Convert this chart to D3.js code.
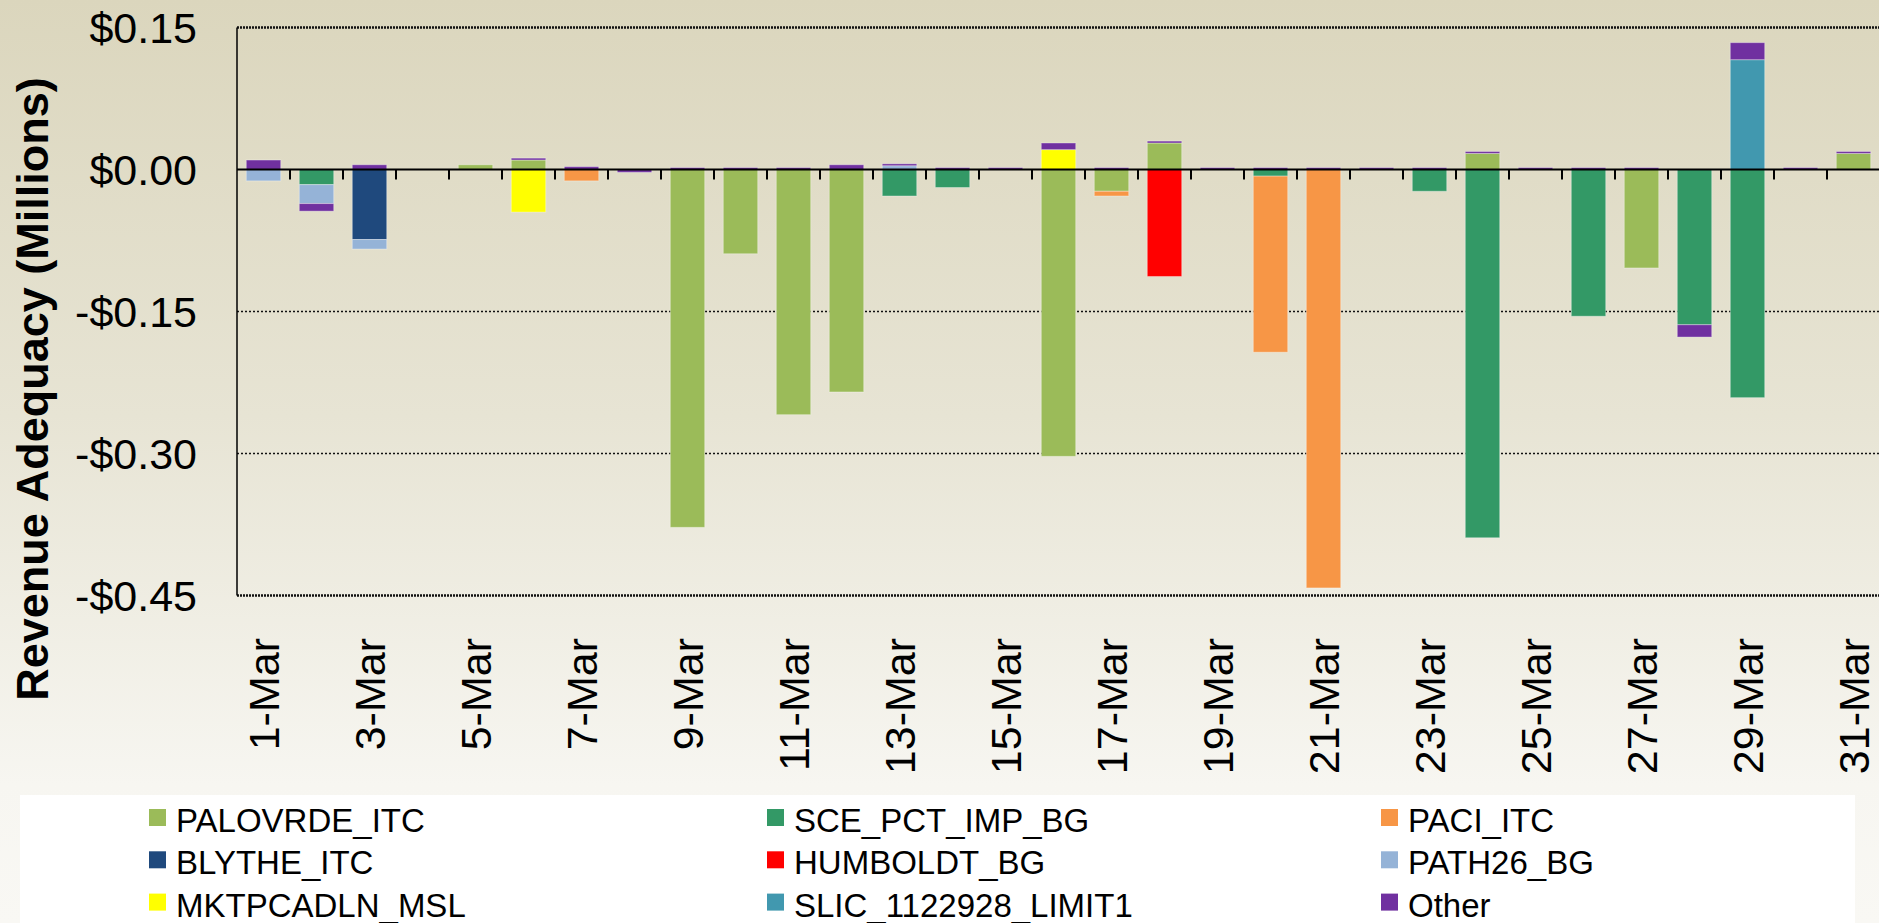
<!DOCTYPE html>
<html>
<head>
    <meta charset="utf-8">
    <title>Revenue Adequacy - March</title>
    <!-- fetch the D3js library -->
    <script src="https://d3js.org/d3.v7.min.js"></script>
    <style>
        body {
            margin: 0;
            overflow: hidden;
        }

        svg {
            display: block;
            font-family: "Liberation Sans", Arial, sans-serif;
        }
    </style>
</head>
<body>
<script>
    // categories (x axis)
    const days = ["1-Mar", "2-Mar", "3-Mar", "4-Mar", "5-Mar", "6-Mar", "7-Mar", "8-Mar", "9-Mar", "10-Mar",
        "11-Mar", "12-Mar", "13-Mar", "14-Mar", "15-Mar", "16-Mar", "17-Mar", "18-Mar", "19-Mar", "20-Mar",
        "21-Mar", "22-Mar", "23-Mar", "24-Mar", "25-Mar", "26-Mar", "27-Mar", "28-Mar", "29-Mar", "30-Mar", "31-Mar"];

    // series values, $ millions
    const PALOVRDE_ITC = [0, 0, 0, 0, 0.005, 0.010, 0, 0, -0.378, -0.089,
        -0.259, -0.235, 0, 0, 0, -0.303, -0.023, 0.028, 0, 0,
        0, 0, 0, 0.017, 0, 0, -0.104, 0, 0, 0, 0.017];
    const SCE_PCT_IMP_BG = [0, -0.016, 0, 0, 0, 0, 0, 0, 0, 0,
        0, 0, -0.028, -0.019, 0, 0, 0, 0, 0, -0.007,
        0, 0, -0.023, -0.389, 0, -0.155, 0, -0.164, -0.241, 0, 0];
    const PACI_ITC = [0, 0, 0, 0, 0, 0, -0.012, 0, 0, 0,
        0, 0, 0, 0, 0, 0, -0.005, 0, 0, -0.186,
        -0.442, 0, 0, 0, 0, 0, 0, 0, 0, 0, 0];
    const BLYTHE_ITC = [0, 0, -0.074, 0, 0, 0, 0, 0, 0, 0,
        0, 0, 0, 0, 0, 0, 0, 0, 0, 0,
        0, 0, 0, 0, 0, 0, 0, 0, 0, 0, 0];
    const HUMBOLDT_BG = [0, 0, 0, 0, 0, 0, 0, 0, 0, 0,
        0, 0, 0, 0, 0, 0, 0, -0.113, 0, 0,
        0, 0, 0, 0, 0, 0, 0, 0, 0, 0, 0];
    const PATH26_BG = [-0.012, -0.020, -0.010, 0, 0, 0, 0, 0, 0, 0,
        0, 0, 0.004, 0, 0, 0, 0, 0, 0, 0,
        0, 0, 0, 0, 0, 0, 0, 0, 0, 0, 0];
    const MKTPCADLN_MSL = [0, 0, 0, 0, 0, -0.045, 0, 0, 0, 0,
        0, 0, 0, 0, 0, 0.021, 0, 0, 0, 0,
        0, 0, 0, 0, 0, 0, 0, 0, 0, 0, 0];
    const SLIC_1122928_LIMIT1 = [0, 0, 0, 0, 0, 0, 0, 0, 0, 0,
        0, 0, 0, 0, 0, 0, 0, 0, 0, 0,
        0, 0, 0, 0, 0, 0, 0, 0, 0.116, 0, 0];
    const Other = [0.010, -0.008, 0.005, 0, 0, 0.002, 0.003, -0.003, 0.002, 0.002,
        0.002, 0.005, 0.002, 0.002, 0.002, 0.007, 0.002, 0.002, 0.002, 0.002,
        0.002, 0.002, 0.002, 0.002, 0.002, 0.002, 0.002, -0.013, 0.018, 0.002, 0.002];

    const seriesNames = ["PALOVRDE_ITC", "SCE_PCT_IMP_BG", "PACI_ITC", "BLYTHE_ITC", "HUMBOLDT_BG",
        "PATH26_BG", "MKTPCADLN_MSL", "SLIC_1122928_LIMIT1", "Other"];
    const seriesValues = [PALOVRDE_ITC, SCE_PCT_IMP_BG, PACI_ITC, BLYTHE_ITC, HUMBOLDT_BG,
        PATH26_BG, MKTPCADLN_MSL, SLIC_1122928_LIMIT1, Other];
    const seriesColors = ["#9bbb59", "#339966", "#f79646", "#1f497d", "#ff0000",
        "#95b3d7", "#ffff00", "#4198af", "#7030a0"];

    // y tick values and labels
    const yTicks = [0.15, 0, -0.15, -0.30, -0.45];
    const yTickLabels = ["$0.15", "$0.00", "-$0.15", "-$0.30", "-$0.45"];
    // only every other day gets a label
    const xLabelDays = days.filter((d, i) => i % 2 === 0);

    // build rows for d3.stack
    const rows = days.map(function (d, i) {
        const row = {day: d};
        seriesNames.forEach(function (name, j) {
            row[name] = seriesValues[j][i];
        });
        return row;
    });

    const width = 1879;
    const height = 923;
    const plot = {left: 237, right: 1880, top: 27.5, bottom: 595.5};

    const svg = d3.select("body")
        .append("svg")
        .attr("width", width)
        .attr("height", height);

    // background gradient
    const defs = svg.append("defs");
    const grad = defs.append("linearGradient")
        .attr("id", "bg")
        .attr("x1", 0).attr("y1", 0).attr("x2", 0).attr("y2", 1);
    grad.append("stop").attr("offset", "0%").attr("stop-color", "#dbd6bd");
    grad.append("stop").attr("offset", "45%").attr("stop-color", "#e7e4d4");
    grad.append("stop").attr("offset", "85%").attr("stop-color", "#f7f6f1");
    grad.append("stop").attr("offset", "100%").attr("stop-color", "#f9f8f4");

    svg.append("rect")
        .attr("width", width)
        .attr("height", height)
        .attr("fill", "url(#bg)");

    // scales
    const x = d3.scaleBand()
        .domain(days)
        .range([plot.left, plot.right])
        .paddingInner(0.35)
        .paddingOuter(0.175);

    const y = d3.scaleLinear()
        .domain([-0.45, 0.15])
        .range([plot.bottom, plot.top]);

    // gridlines (dotted)
    svg.append("g")
        .selectAll("line")
        .data(yTicks.filter(v => v !== 0))
        .enter()
        .append("line")
        .attr("x1", plot.left)
        .attr("x2", plot.right)
        .attr("y1", d => y(d))
        .attr("y2", d => y(d))
        .attr("stroke", "#111")
        .attr("stroke-width", d => (d === 0.15 || d === -0.45) ? 2.5 : 1.5)
        .attr("stroke-dasharray", d => (d === 0.15 || d === -0.45) ? "2,1" : "2,2");

    // stacked bars
    const stack = d3.stack()
        .keys(seriesNames)
        .offset(d3.stackOffsetDiverging);
    const stacked = stack(rows);

    svg.append("g")
        .selectAll("g")
        .data(stacked)
        .enter()
        .append("g")
        .attr("fill", (d, i) => seriesColors[i])
        .selectAll("rect")
        .data(d => d.filter(p => p[1] - p[0] !== 0))
        .enter()
        .append("rect")
        .attr("x", d => x(d.data.day))
        .attr("width", x.bandwidth())
        .attr("y", d => y(Math.max(d[0], d[1])))
        .attr("height", d => Math.abs(y(d[0]) - y(d[1])))
        .attr("stroke", "rgba(255,255,255,0.35)")
        .attr("stroke-width", 1);

    // left axis line
    svg.append("line")
        .attr("x1", plot.left).attr("x2", plot.left)
        .attr("y1", plot.top).attr("y2", plot.bottom)
        .attr("stroke", "#000")
        .attr("stroke-width", 1.5);

    // category axis at zero, ticks on band boundaries
    svg.append("line")
        .attr("x1", plot.left).attr("x2", plot.right)
        .attr("y1", y(0)).attr("y2", y(0))
        .attr("stroke", "#000")
        .attr("stroke-width", 2);

    svg.append("g")
        .selectAll("line")
        .data(days)
        .enter()
        .append("line")
        .attr("x1", d => x(d) + x.bandwidth() + x.step() * x.paddingInner() / 2)
        .attr("x2", d => x(d) + x.bandwidth() + x.step() * x.paddingInner() / 2)
        .attr("y1", y(0))
        .attr("y2", y(0) + 10)
        .attr("stroke", "#000")
        .attr("stroke-width", 2);

    // y tick labels
    svg.append("g")
        .selectAll("text")
        .data(yTicks)
        .enter()
        .append("text")
        .attr("x", 197)
        .attr("y", d => y(d))
        .attr("dy", "0.36em")
        .attr("text-anchor", "end")
        .attr("font-size", "43px")
        .attr("fill", "#000")
        .text((d, i) => yTickLabels[i]);

    // x labels, rotated
    svg.append("g")
        .selectAll("text")
        .data(xLabelDays)
        .enter()
        .append("text")
        .attr("transform", d => "translate(" + (x(d) + x.bandwidth() / 2 + 15.5) + ",638) rotate(-90)")
        .attr("text-anchor", "end")
        .attr("font-size", "43px")
        .attr("fill", "#000")
        .text(d => d);

    // y axis title
    svg.append("text")
        .attr("transform", "translate(48,389) rotate(-90)")
        .attr("text-anchor", "middle")
        .attr("font-size", "45px")
        .attr("font-weight", "bold")
        .attr("fill", "#000")
        .text("Revenue Adequacy (Millions)");

    // legend
    svg.append("rect")
        .attr("x", 20)
        .attr("y", 795)
        .attr("width", 1835)
        .attr("height", 140)
        .attr("fill", "#fff");

    const legendCols = [149, 767, 1381];
    const legend = svg.append("g")
        .selectAll("g")
        .data(seriesNames)
        .enter()
        .append("g")
        .attr("transform", (d, i) => "translate(" + legendCols[i % 3] + "," + (809 + Math.floor(i / 3) * 42.3) + ")");

    legend.append("rect")
        .attr("width", 17)
        .attr("height", 17)
        .attr("fill", (d, i) => seriesColors[i]);

    legend.append("text")
        .attr("x", 27)
        .attr("y", 23)
        .attr("font-size", "33px")
        .attr("fill", "#000")
        .text(d => d);
</script>
</body>
</html>
